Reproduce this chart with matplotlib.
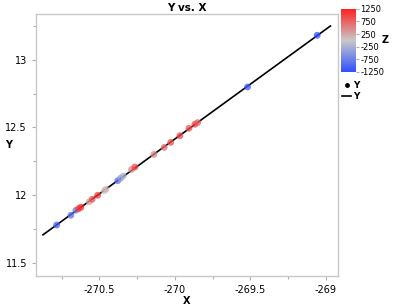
import numpy as np
import matplotlib
matplotlib.use('Agg')
import matplotlib.pyplot as plt
from matplotlib.colors import LinearSegmentedColormap, Normalize
from matplotlib.lines import Line2D

plt.rcParams['font.family'] = ['Liberation Sans Narrow', 'DejaVu Sans']
plt.rcParams['axes.unicode_minus'] = False

# data
x_vals = [-270.783, -270.689, -270.656, -270.638, -270.623, -270.568, -270.548,
          -270.512, -270.468, -270.457, -270.379, -270.360, -270.342, -270.287,
          -270.265, -270.139, -270.071, -270.028, -269.967, -269.907, -269.868,
          -269.850, -269.519, -269.058]
y_vals = [11.778, 11.850, 11.887, 11.899, 11.909, 11.950, 11.968, 11.998, 12.032,
          12.042, 12.106, 12.124, 12.141, 12.190, 12.207, 12.301, 12.353, 12.390,
          12.439, 12.494, 12.524, 12.536, 12.800, 13.183]
z_vals = [-1100, -900, -800, 1100, 1200, 300, 900, 1100, 0, 150, -900, -500, -250,
          500, 1000, 500, 700, 900, 1000, 900, 1000, 800, -1150, -1250]
fit_range = [-270.874, -268.97]
z_ticks = [1250, 750, 250, -250, -750, -1250]

cmap = LinearSegmentedColormap.from_list('bgr', ['#3050ff', '#c8c8c8', '#ff2020'])
norm = Normalize(vmin=-1250, vmax=1250)

fig = plt.figure(figsize=(4.0, 3.06), dpi=100)
ax = fig.add_axes([0.09, 0.098, 0.755, 0.856])

coef = np.polyfit(x_vals, y_vals, 1)
lx = np.array(fit_range)
ax.plot(lx, np.polyval(coef, lx), color='black', lw=1.2, zorder=2)
ax.scatter(x_vals, y_vals, c=z_vals, cmap=cmap, norm=norm, s=24, alpha=0.75,
           edgecolors='none', zorder=3)

ax.set_xlim(-270.92, -268.92)
ax.set_ylim(11.40, 13.34)
ax.set_xticks([-270.5, -270, -269.5, -269])
ax.set_xticklabels(['-270.5', '-270', '-269.5', '-269'])
ax.set_xticks([-270.75, -270.25, -269.75, -269.25], minor=True)
ax.set_yticks([11.5, 12, 12.5, 13])
ax.set_yticklabels(['11.5', '12', '12.5', '13'])
ax.set_yticks([11.75, 12.25, 12.75, 13.25], minor=True)
ax.tick_params(which='both', colors='#b0b0b0', labelcolor='black', labelsize=7, length=3, width=0.8)
ax.tick_params(which='minor', length=2)
for s in ax.spines.values():
    s.set_color('#c8c8c8')
    s.set_linewidth(1.0)

ax.set_title('Y vs. X', fontsize=7.5, fontweight='bold', pad=2)
ax.set_xlabel('X', fontsize=7, fontweight='bold', labelpad=1)
fig.text(0.012, 0.527, 'Y', fontsize=7, fontweight='bold', va='center', ha='left')

cax = fig.add_axes([0.8525, 0.765, 0.0375, 0.206])
cb = fig.colorbar(plt.cm.ScalarMappable(norm=norm, cmap=cmap), cax=cax)
cb.set_ticks(z_ticks)
cb.ax.tick_params(labelsize=6, length=2, colors='#b0b0b0', labelcolor='black', pad=1)
cb.outline.set_visible(False)
fig.text(0.955, 0.87, 'Z', fontsize=7, fontweight='bold', va='center')

handles = [Line2D([], [], marker='o', color='black', ls='none', markersize=2.5),
           Line2D([], [], color='black', lw=1.2)]
fig.legend(handles, ['Y', 'Y'], loc='upper left', bbox_to_anchor=(0.84, 0.755),
           frameon=False, handlelength=1.0, handletextpad=0.2,
           labelspacing=0.2, borderpad=0.2, prop={'weight': 'bold', 'size': 6.5})

fig.savefig('out.png', dpi=100)
